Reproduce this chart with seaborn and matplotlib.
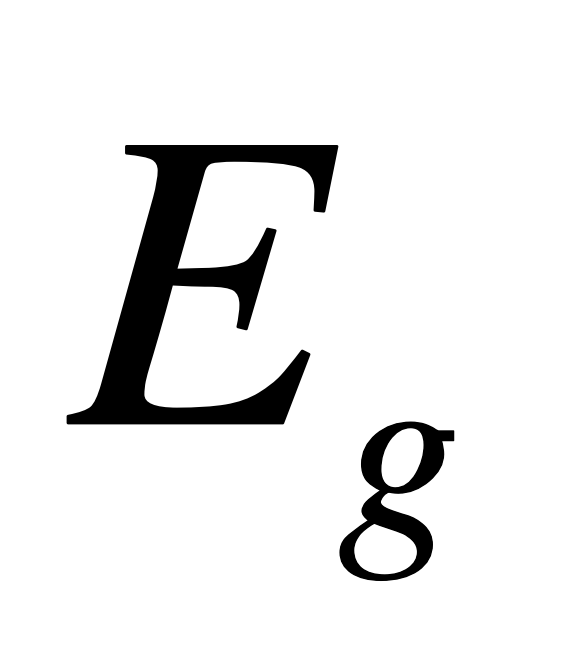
import os
import matplotlib
matplotlib.use("Agg")
import matplotlib.pyplot as plt
import matplotlib.patheffects as pe
from matplotlib import font_manager
import seaborn as sns

# symbol pieces
main_symbol = "E"
subscript = "g"

sns.set_style("white")

# Times-like italic with a two-storey g
italic_file = "/usr/share/fonts/truetype/freefont/FreeSerifItalic.ttf"
if os.path.exists(italic_file):
    fp_big = font_manager.FontProperties(fname=italic_file, size=305)
    fp_small = font_manager.FontProperties(fname=italic_file, size=176)
else:
    fp_big = font_manager.FontProperties(family="serif", style="italic", size=305)
    fp_small = font_manager.FontProperties(family="serif", style="italic", size=176)

fig = plt.figure(figsize=(5.64, 6.70), dpi=100)
ax = fig.add_axes([0, 0, 1, 1])
ax.set_xlim(0, 564)
ax.set_ylim(670, 0)
ax.axis("off")

# a thin outline makes the strokes a little heavier, like the reference
ax.text(68, 423, main_symbol, fontproperties=fp_big, ha="left", va="baseline",
        color="black", path_effects=[pe.withStroke(linewidth=2, foreground="black")])
ax.text(346, 530, subscript, fontproperties=fp_small, ha="left", va="baseline",
        color="black", path_effects=[pe.withStroke(linewidth=1, foreground="black")])

fig.savefig("out.png", dpi=100, facecolor="white")
